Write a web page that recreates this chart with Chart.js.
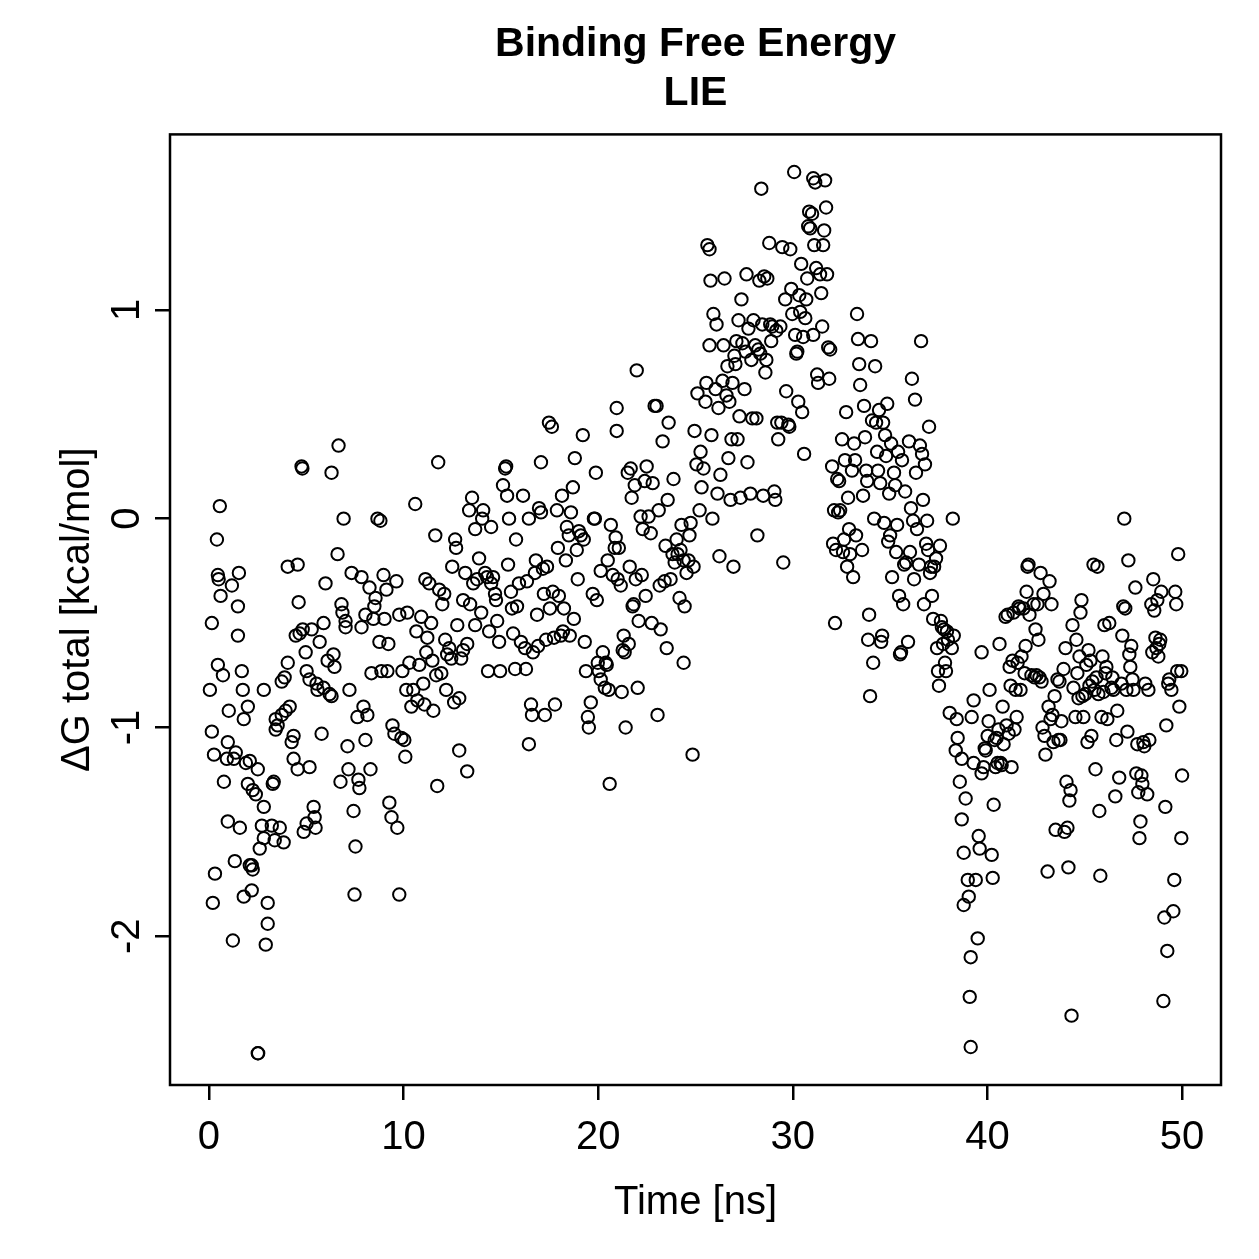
<!DOCTYPE html>
<html lang="en">
<head>
<meta charset="UTF-8">
<title>Binding Free Energy - LIE</title>
<script src="https://cdn.jsdelivr.net/npm/chart.js"></script>
<style>
  html, body { margin: 0; padding: 0; background: #fff; }
  canvas { display: block; }
</style>
</head>
<body>
<canvas id="grafico" width="1259" height="1259"></canvas>
<script>
// [time (ns), dG total (kcal/mol)], 10 ns per block
const pts0to10 = [
  [0.15,-0.50],[0.05,-0.82],[0.15,-1.02],[0.26,-1.13],[0.31,-1.70],[0.20,-1.84],[0.41,-0.10],[0.56,0.06],
  [0.46,-0.27],[0.50,-0.29],[0.60,-0.37],[0.46,-0.70],[0.72,-0.75],[0.77,-1.26],[0.92,-1.15],[0.97,-1.07],
  [1.02,-0.92],[0.97,-1.45],[1.18,-0.32],[1.28,-1.15],[1.38,-1.12],[1.49,-0.42],[1.49,-0.56],[1.54,-0.26],
  [1.33,-1.64],[1.23,-2.02],[1.59,-1.48],[1.69,-0.73],[1.74,-0.82],[1.79,-0.96],[1.90,-1.17],[2.00,-1.27],
  [1.79,-1.81],[2.10,-1.16],[2.00,-0.90],[2.10,-1.66],[2.20,-1.66],[2.25,-1.68],[2.25,-1.30],[2.20,-1.78],
  [2.41,-1.32],[2.51,-2.56],[2.53,-2.56],[2.51,-1.20],[2.61,-1.58],[2.72,-1.47],[2.82,-1.38],[2.82,-1.53],
  [2.92,-2.04],[3.02,-1.94],[3.02,-1.84],[2.82,-0.82],[3.23,-1.47],[3.28,-1.27],[3.33,-1.26],[3.38,-1.54],
  [3.43,-1.01],[3.43,-0.96],[3.53,-0.99],[3.64,-1.48],[3.74,-0.94],[3.74,-0.78],[3.84,-1.55],[3.89,-0.76],
  [3.94,-0.92],[4.05,-0.69],[4.05,-0.23],[4.15,-0.90],[4.25,-1.07],[4.35,-1.04],[4.35,-1.15],[4.46,-0.56],
  [4.56,-0.22],[4.56,-1.20],[4.61,-0.40],[4.66,-0.55],[4.76,0.25],[4.80,0.24],[4.82,-0.53],[4.87,-1.50],
  [4.97,-0.64],[5.02,-0.73],[5.02,-1.46],
  [5.17,-0.77],[5.17,-1.19],[5.28,-0.53],[5.38,-1.38],[5.43,-1.43],[5.48,-1.48],[5.53,-0.79],[5.58,-0.82],
  [5.69,-0.59],[5.79,-1.03],[5.89,-0.81],[5.89,-0.50],[5.99,-0.31],[6.10,-0.68],[6.20,-0.84],[6.30,0.22],
  [6.30,-0.85],[6.40,-0.65],[6.45,-0.71],[6.61,-0.17],[6.66,0.35],[6.76,-1.26],[6.81,-0.41],[6.86,-0.45],
  [6.92,0.00],[7.02,-0.52],[7.02,-0.49],[7.12,-1.09],[7.17,-1.20],[7.22,-0.82],[7.33,-0.26],[7.43,-1.40],
  [7.48,-1.80],[7.53,-1.57],[7.63,-0.95],[7.68,-1.25],[7.73,-1.29],[7.84,-0.28],[7.84,-0.52],[7.94,-0.90],
  [8.04,-0.46],[8.04,-1.06],[8.14,-0.94],[8.25,-0.33],[8.30,-1.20],[8.35,-0.74],[8.45,-0.48],[8.50,-0.42],
  [8.56,-0.38],[8.66,0.00],[8.76,-0.59],[8.81,-0.01],[8.86,-0.73],[8.97,-0.27],[9.02,-0.48],[9.12,-0.34],
  [9.17,-0.73],[9.22,-0.60],[9.27,-1.36],[9.38,-1.43],[9.43,-0.99],[9.53,-1.03],[9.63,-0.30],[9.68,-1.48],
  [9.78,-1.80],[9.78,-0.46],[9.89,-1.05],[9.94,-0.73],[10.04,-1.06]
];
const pts10to20 = [
  [10.09,-1.14],[10.14,-0.82],[10.19,-0.45],[10.30,-0.69],[10.40,-0.90],[10.50,-0.82],[10.60,0.07],[10.66,-0.54],
  [10.71,-0.87],[10.81,-0.70],[10.91,-0.47],[11.01,-0.79],[11.07,-0.89],[11.12,-0.29],[11.17,-0.64],[11.22,-0.57],
  [11.32,-0.31],[11.42,-0.50],[11.48,-0.68],[11.53,-0.92],[11.63,-0.08],[11.68,-0.75],[11.73,-1.28],[11.78,0.27],
  [11.83,-0.34],[11.94,-0.74],[11.99,-0.41],[12.09,-0.36],[12.14,-0.58],[12.19,-0.82],[12.24,-0.65],[12.35,-0.62],
  [12.45,-0.67],[12.50,-0.23],[12.60,-0.88],[12.65,-0.10],[12.70,-0.14],[12.76,-0.51],[12.86,-0.86],[12.86,-1.11],
  [12.96,-0.67],[13.06,-0.39],[13.06,-0.63],[13.17,-0.26],[13.27,-1.21],[13.27,-0.60],[13.37,0.04],[13.42,-0.41],
  [13.52,0.10],[13.58,-0.31],[13.68,-0.05],[13.68,-0.51],[13.78,-0.29],[13.88,-0.19],[13.99,-0.45],[14.04,0.00],
  [14.09,0.04],[14.19,-0.26],[14.29,-0.28],[14.34,-0.73],[14.40,-0.54],[14.50,-0.04],[14.50,-0.31],[14.60,-0.28],
  [14.70,-0.36],[14.75,-0.39],[14.81,-0.49],[14.91,-0.59],[14.96,-0.73],
  [15.11,0.16],[15.22,0.24],[15.27,0.25],[15.32,0.11],[15.37,-0.22],[15.42,0.00],[15.52,-0.35],[15.57,-0.43],
  [15.63,-0.55],[15.73,-0.72],[15.78,-0.10],[15.83,-0.42],[15.93,-0.31],[16.03,-0.59],[16.14,0.11],[16.24,-0.62],
  [16.29,-0.72],[16.34,-0.30],[16.44,0.00],[16.44,-1.08],[16.55,-0.89],[16.60,-0.94],[16.65,-0.64],[16.75,-0.26],
  [16.80,-0.20],[16.86,-0.46],[16.91,-0.61],[16.96,0.05],[17.06,0.03],[17.06,0.27],[17.16,-0.24],[17.21,-0.36],
  [17.26,-0.94],[17.32,-0.58],[17.37,-0.23],[17.47,0.46],[17.52,-0.43],[17.62,0.44],[17.67,-0.35],[17.73,-0.57],
  [17.78,-0.89],[17.88,0.04],[17.93,-0.14],[17.98,-0.37],[18.08,-0.56],[18.14,0.11],[18.19,-0.54],[18.24,-0.43],
  [18.34,-0.20],[18.39,-0.04],[18.49,-0.08],[18.54,-0.56],[18.60,0.03],[18.70,0.15],[18.75,-0.48],[18.80,0.29],
  [18.90,-0.15],[18.95,-0.29],[19.01,-0.06],[19.11,-0.08],[19.21,0.40],[19.26,-0.10],[19.31,-0.59],[19.37,-0.73],
  [19.47,-0.95],[19.52,-1.00],[19.62,-0.88],[19.72,-0.36],[19.78,0.00],[19.83,0.00],[19.88,0.22],[19.93,-0.39],
  [19.98,-0.69]
];
const pts20to30 = [
  [20.03,-0.73],[20.13,-0.77],[20.13,-0.25],[20.24,-0.64],[20.34,-0.81],[20.39,-0.69],[20.44,-0.70],[20.49,-0.20],
  [20.54,-0.82],[20.59,-1.27],[20.65,-0.03],[20.75,-0.27],[20.85,-0.14],[20.90,-0.09],[20.95,0.53],[20.95,0.42],
  [21.00,-0.29],[21.06,-0.14],[21.16,-0.32],[21.21,-0.83],[21.26,-0.63],[21.31,-0.56],[21.36,-0.64],[21.41,-1.00],
  [21.52,0.22],[21.57,-0.60],[21.62,-0.23],[21.67,0.24],[21.72,0.10],[21.77,-0.42],[21.82,-0.41],[21.88,0.16],
  [21.93,-0.29],[21.98,0.71],[22.03,-0.81],[22.08,-0.49],[22.18,0.01],[22.24,-0.27],[22.29,-0.05],[22.39,0.18],
  [22.44,-0.37],[22.49,0.25],[22.59,0.01],[22.70,-0.07],[22.75,-0.50],[22.80,0.17],[22.90,0.54],[23.00,0.54],
  [23.05,-0.94],[23.11,0.04],[23.16,-0.32],[23.21,-0.53],[23.31,0.37],[23.41,-0.30],[23.46,-0.13],[23.52,-0.62],
  [23.57,0.09],[23.62,0.46],[23.72,-0.29],[23.82,-0.17],[23.87,0.19],[23.93,-0.21],[24.03,-0.10],[24.08,-0.17],
  [24.18,-0.38],[24.23,-0.15],[24.28,-0.03],[24.39,-0.20],[24.39,-0.69],[24.44,-0.42],[24.54,-0.26],[24.64,-0.20],
  [24.69,-0.08],[24.75,-0.02],[24.85,-1.13],[24.90,-0.23],[24.95,0.42],
  [25.05,0.26],[25.10,0.60],[25.21,0.04],[25.26,0.32],[25.31,0.15],[25.41,0.24],[25.51,0.56],[25.56,0.65],
  [25.61,1.31],[25.72,1.29],[25.72,0.83],[25.77,1.14],[25.82,0.40],[25.87,0.00],[25.92,0.98],[26.03,0.62],
  [26.08,0.93],[26.13,0.12],[26.18,0.53],[26.23,-0.18],[26.28,0.21],[26.39,0.66],[26.44,0.83],[26.49,1.15],
  [26.59,0.59],[26.64,0.73],[26.69,0.29],[26.74,0.56],[26.80,0.09],[26.85,0.38],[26.90,0.65],[26.95,-0.23],
  [27.00,0.78],[27.05,0.74],[27.10,0.85],[27.16,0.38],[27.21,0.95],[27.26,0.49],[27.31,0.10],[27.36,1.05],
  [27.41,0.84],[27.52,0.62],[27.57,0.80],[27.62,1.17],[27.67,0.27],[27.72,0.91],[27.82,0.12],[27.87,0.76],
  [27.92,0.48],[27.98,0.95],[28.07,0.83],[28.13,0.48],[28.18,-0.08],[28.23,0.81],[28.28,1.14],[28.33,0.79],
  [28.38,1.58],[28.43,0.93],[28.48,0.11],[28.53,1.16],[28.59,0.70],[28.64,0.76],[28.69,1.15],[28.79,1.32],
  [28.84,0.93],[28.89,0.85],[28.94,0.92],[29.05,0.13],[29.10,0.09],[29.15,0.90],[29.20,0.46],[29.25,0.38],
  [29.36,0.92],[29.41,0.46],[29.46,1.30],[29.51,-0.21],[29.61,1.05],[29.66,0.61],[29.77,0.45],[29.82,0.44],
  [29.87,1.29],[29.92,1.10],[29.97,0.98]
];
const pts30to40 = [
  [30.07,1.66],[30.12,0.88],[30.18,0.79],[30.23,0.80],[30.28,0.56],[30.33,1.07],[30.38,0.99],[30.43,1.22],
  [30.48,0.51],[30.53,0.87],[30.58,0.31],[30.64,0.96],[30.69,1.05],[30.74,1.15],[30.79,1.40],[30.84,1.47],
  [30.89,1.39],[30.99,1.46],[31.05,1.63],[31.05,0.88],[31.10,1.31],[31.15,1.61],[31.20,1.20],[31.25,0.69],
  [31.30,0.65],[31.40,1.17],[31.46,1.08],[31.51,0.92],[31.56,1.31],[31.61,1.38],[31.66,1.62],[31.71,1.49],
  [31.76,1.17],[31.82,0.82],[31.87,0.67],[31.92,0.81],[32.02,0.25],[32.07,-0.12],[32.12,0.04],[32.17,-0.50],
  [32.22,-0.15],[32.28,0.19],[32.33,0.03],[32.38,0.18],[32.43,0.04],[32.53,0.38],[32.58,-0.16],[32.63,-0.10],
  [32.68,0.28],[32.74,0.51],[32.79,-0.23],[32.84,0.10],[32.89,-0.05],[32.94,-0.17],[33.04,0.23],[33.10,-0.28],
  [33.15,0.36],[33.20,0.28],[33.25,-0.08],[33.30,0.98],[33.35,0.86],[33.41,0.74],[33.46,0.64],[33.56,-0.15],
  [33.61,0.11],[33.66,0.54],[33.71,0.39],[33.77,0.23],[33.82,0.18],[33.87,-0.58],[33.92,-0.46],[33.97,-0.85],
  [34.02,0.85],[34.07,0.47],[34.13,-0.69],[34.18,0.00],[34.23,0.73],[34.28,0.46],[34.33,0.32],[34.38,0.23],
  [34.43,0.52],[34.49,0.17],[34.54,-0.59],[34.59,-0.56],[34.64,0.46],[34.69,-0.02],[34.74,0.40],[34.79,0.30],
  [34.85,0.55],[34.90,-0.11],[34.95,0.12],
  [35.00,-0.08],[35.05,0.36],[35.10,-0.28],[35.20,0.22],[35.26,0.16],[35.31,-0.16],[35.36,-0.03],[35.41,0.32],
  [35.46,-0.37],[35.51,-0.65],[35.56,-0.64],[35.61,0.28],[35.67,-0.41],[35.72,-0.22],[35.77,0.13],[35.82,-0.21],
  [35.92,-0.59],[35.97,0.37],[36.02,-0.16],[36.07,0.05],[36.12,0.67],[36.18,-0.01],[36.23,-0.29],[36.28,0.57],
  [36.33,0.22],[36.38,-0.05],[36.48,-0.22],[36.53,0.35],[36.59,0.85],[36.64,0.31],[36.69,0.09],[36.74,-0.41],
  [36.79,0.26],[36.85,-0.12],[36.90,-0.01],[36.95,-0.15],[37.00,0.44],[37.05,-0.26],[37.10,-0.23],[37.15,-0.37],
  [37.21,-0.48],[37.26,-0.23],[37.36,-0.19],[37.41,-0.62],[37.46,-0.73],[37.51,-0.80],[37.56,-0.13],[37.61,-0.49],
  [37.66,-0.52],[37.72,-0.60],[37.77,-0.53],[37.82,-0.69],[37.87,-0.73],[37.92,-0.54],[37.97,-0.58],[38.06,-0.93],
  [38.17,-0.62],[38.22,0.00],[38.27,-0.56],[38.37,-1.11],[38.42,-0.96],[38.47,-1.05],[38.58,-1.26],[38.68,-1.15],
  [38.68,-1.44],[38.78,-1.60],[38.78,-1.85],[38.88,-1.34],[38.99,-1.73],[39.04,-1.81],[39.09,-2.29],[39.14,-2.53],
  [39.14,-2.10],[39.19,-0.95],[39.29,-0.87],[39.29,-1.17],[39.40,-1.73],[39.50,-2.01],[39.55,-1.52],[39.60,-1.58],
  [39.70,-0.64],[39.70,-1.22],[39.80,-1.19],[39.86,-1.10],[39.91,-1.11]
];
const pts40to50 = [
  [40.01,-1.04],[40.06,-0.97],[40.11,-0.82],[40.22,-1.61],[40.27,-1.72],[40.32,-1.37],[40.37,-1.06],[40.42,-1.19],
  [40.47,-1.05],[40.52,-1.17],[40.57,-1.01],[40.62,-0.60],[40.68,-1.17],[40.73,-1.18],[40.78,-0.90],[40.83,-1.08],
  [40.93,-0.47],[40.98,-0.99],[41.04,-0.46],[41.09,-1.03],[41.14,-0.71],[41.19,-0.80],[41.24,-1.19],[41.29,-0.68],
  [41.34,-0.45],[41.39,-1.01],[41.45,-0.82],[41.50,-0.95],[41.55,-0.69],[41.60,-0.42],[41.65,-0.43],[41.70,-0.82],
  [41.75,-0.66],[41.85,-0.43],[41.91,-0.74],[41.96,-0.61],[42.01,-0.35],[42.06,-0.23],[42.11,-0.22],[42.16,-0.46],
  [42.26,-0.75],[42.37,-0.41],[42.42,-0.76],[42.47,-0.53],[42.52,-0.75],[42.57,-0.41],[42.62,-0.58],[42.67,-0.76],
  [42.73,-0.26],[42.78,-0.78],[42.83,-1.00],[42.88,-0.36],[42.93,-1.04],[42.98,-1.13],[43.09,-1.69],[43.14,-0.90],
  [43.19,-0.30],[43.24,-0.96],[43.29,-0.41],[43.34,-0.94],[43.39,-1.07],[43.45,-0.85],[43.50,-1.49],[43.60,-0.77],
  [43.65,-1.06],[43.70,-0.78],[43.75,-1.06],[43.80,-0.97],[43.91,-0.72],[43.96,-1.50],[44.01,-0.62],[44.06,-1.26],
  [44.11,-1.48],[44.16,-1.67],[44.21,-1.35],[44.27,-1.30],[44.32,-2.38],[44.37,-0.51],[44.42,-0.81],[44.52,-0.95],
  [44.57,-0.58],[44.62,-0.74],[44.68,-0.86],[44.73,-0.66],[44.78,-0.45],[44.83,-0.39],[44.88,-0.85],[44.93,-0.95],
  [45.03,-0.84],[45.08,-0.70],[45.14,-1.07],[45.19,-0.63],[45.24,-0.80],[45.29,-0.68],[45.34,-1.04],[45.39,-0.78],
  [45.45,-0.22],[45.50,-0.82],[45.55,-1.20],[45.60,-0.76],[45.65,-0.23],[45.70,-0.84],[45.75,-1.40],[45.80,-1.71],
  [45.86,-0.95],[45.91,-0.66],[45.96,-0.83],[46.01,-0.51],[46.06,-0.74],[46.11,-0.71],[46.16,-0.96],[46.26,-0.50],
  [46.37,-0.81],[46.42,-0.76],[46.47,-0.82],[46.57,-1.33],[46.62,-1.06],[46.67,-0.92],[46.77,-1.24],[46.88,-0.79],
  [46.93,-0.56],[46.98,-0.42],[47.03,0.00],[47.08,-0.43],[47.14,-0.82],[47.19,-1.02],[47.24,-0.20],[47.29,-0.65],
  [47.34,-0.71],[47.39,-0.61],[47.45,-0.77],[47.50,-0.82],[47.60,-0.33],[47.65,-1.22],[47.70,-1.08],[47.75,-1.31],
  [47.81,-1.53],[47.86,-1.45],[47.91,-1.23],[47.96,-1.27],[48.01,-1.07],[48.06,-1.09],[48.11,-0.79],[48.21,-1.32],
  [48.27,-0.82],[48.32,-1.06],[48.42,-0.41],[48.47,-0.64],[48.52,-0.29],[48.57,-0.44],[48.63,-0.57],[48.68,-0.62],
  [48.73,-0.39],[48.78,-0.66],[48.83,-0.60],[48.88,-0.58],[48.93,-0.35],[49.04,-2.31],[49.09,-1.91],[49.14,-1.38],
  [49.19,-0.99],[49.24,-2.07],[49.29,-0.79],[49.34,-0.77],[49.45,-0.82],[49.55,-1.88],[49.60,-1.73],[49.65,-0.35],
  [49.70,-0.41],[49.75,-0.73],[49.80,-0.17],[49.86,-0.90],[49.96,-0.73],[50.00,-1.23],[49.96,-1.53]
];

const xTicks = [0, 10, 20, 30, 40, 50];
const yTicks = [-2, -1, 0, 1];
const yTickLabels = ['-2', '-1', '0', '1'];

const fonte = '"Liberation Sans", Arial, Helvetica, sans-serif';

var todos = pts0to10.concat(pts10to20, pts20to30, pts30to40, pts40to50);
var dados = todos.map(p => ({ x: p[0], y: p[1] }));

// R style box around plot + vertical y tick labels
const moldura = {
  id: 'moldura',
  afterDraw(chart) {
    const ctx = chart.ctx;
    const a = chart.chartArea;
    const y = chart.scales.y;
    ctx.save();
    ctx.strokeStyle = '#000';
    ctx.lineWidth = 2.5;
    ctx.strokeRect(a.left, a.top, a.right - a.left, a.bottom - a.top);
    ctx.fillStyle = '#000';
    ctx.font = '40px ' + fonte;
    ctx.textAlign = 'center';
    ctx.textBaseline = 'middle';
    for (let i = 0; i < yTicks.length; i++) {
      ctx.save();
      ctx.translate(a.left - 42, y.getPixelForValue(yTicks[i]));
      ctx.rotate(-Math.PI / 2);
      ctx.fillText(yTickLabels[i], 0, 0);
      ctx.restore();
    }
    ctx.restore();
  }
};

const eixoGrid = {
  display: true,
  drawOnChartArea: false,
  drawTicks: true,
  tickLength: 15,
  lineWidth: 2.5,
  color: '#000',
  tickColor: '#000'
};

new Chart(document.getElementById('grafico').getContext('2d'), {
  type: 'scatter',
  data: {
    datasets: [{
      label: 'dG total',
      data: dados,
      pointStyle: 'circle',
      pointRadius: 6.2,
      pointHoverRadius: 6.2,
      borderWidth: 2,
      borderColor: '#000',
      backgroundColor: 'rgba(0,0,0,0)'
    }]
  },
  options: {
    responsive: false,
    animation: false,
    devicePixelRatio: 1,
    color: '#000',
    layout: { padding: { left: 0, right: 38, top: 0, bottom: 0 } },
    plugins: {
      legend: { display: false },
      tooltip: { enabled: false },
      title: {
        display: true,
        text: ['Binding Free Energy', 'LIE'],
        color: '#000',
        fullSize: false,
        font: { family: fonte, size: 41, weight: 'bold', lineHeight: 1.2 },
        padding: { top: 20, bottom: 16 }
      }
    },
    scales: {
      x: {
        type: 'linear',
        min: -2,
        max: 52,
        border: { display: false },
        grid: eixoGrid,
        afterBuildTicks: s => { s.ticks = xTicks.map(v => ({ value: v })); },
        afterFit: s => { s.height = 174; },
        ticks: {
          color: '#000',
          padding: 14,
          maxRotation: 0,
          font: { family: fonte, size: 40 }
        },
        title: {
          display: true,
          text: 'Time [ns]',
          color: '#000',
          font: { family: fonte, size: 40, lineHeight: 1.2 },
          padding: { top: 0, bottom: 32 }
        }
      },
      y: {
        type: 'linear',
        min: -2.712,
        max: 1.840,
        border: { display: false },
        grid: eixoGrid,
        afterBuildTicks: s => { s.ticks = yTicks.map(v => ({ value: v })); },
        afterFit: s => { s.width = 170; },
        ticks: {
          color: 'rgba(0,0,0,0)',
          font: { family: fonte, size: 40 }
        },
        title: {
          display: true,
          text: 'ΔG total [kcal/mol]',
          color: '#000',
          font: { family: fonte, size: 40, lineHeight: 1.2 },
          padding: { top: 54, bottom: 0 }
        }
      }
    }
  },
  plugins: [moldura]
});
</script>
</body>
</html>
